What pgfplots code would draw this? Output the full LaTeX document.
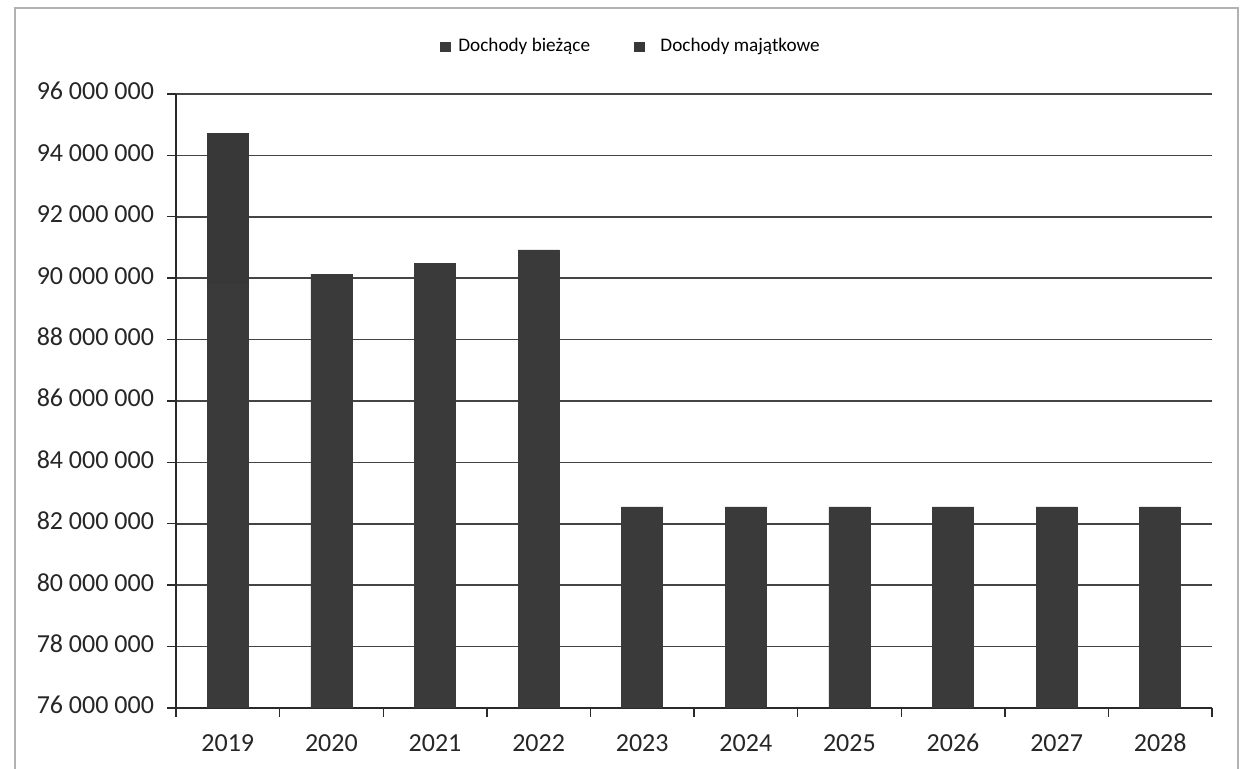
\documentclass[border=0pt]{standalone}
\usepackage{fontspec}
\setmainfont{Carlito}
\usepackage{pgfplots}
\pgfplotsset{compat=1.18}
\definecolor{barA}{HTML}{3A3A3A}
\definecolor{barB}{HTML}{383838}
\definecolor{gridc}{HTML}{444444}
\definecolor{axc}{HTML}{2A2A2A}
\begin{document}
\begin{tikzpicture}
\useasboundingbox (0,0) rectangle (622pt,384.5pt);
\draw[gray!60, line width=0.6pt] (7.5pt,0) -- (7.5pt,380.5pt) -- (619pt,380.5pt) -- (619pt,0);
\begin{axis}[
  at={(88pt,30.5pt)}, anchor=south west,
  scale only axis, width=518pt, height=307pt,
  ybar stacked, bar width=20.5pt,
  xmin=-0.5, xmax=9.5,
  ymin=76000000, ymax=96000000,
  xtick={-0.5,0.5,...,9.5},
  xticklabels={2019,2020,2021,2022,2023,2024,2025,2026,2027,2028},
  x tick label as interval,
  ytick={76000000,78000000,80000000,82000000,84000000,86000000,88000000,90000000,92000000,94000000,96000000},
  yticklabels={76 000 000,78 000 000,80 000 000,82 000 000,84 000 000,86 000 000,88 000 000,90 000 000,92 000 000,94 000 000,96 000 000},
  scaled y ticks=false,
  /pgf/number format/assume math mode=true,
  typeset ticklabels with strut,
  axis x line*=bottom, axis y line*=left,
  axis line style={-, axc, line width=0.7pt},
  tick align=outside, major tick length=4.5pt,
  tick style={axc, line width=0.7pt},
  ymajorgrids, grid style={gridc, line width=0.85pt},
  ticklabel style={font=\fontsize{13}{15}\selectfont, text=black!85},
  yticklabel style={xshift=-3pt},
  xticklabel style={yshift=-3pt},
  legend style={at={(0.44,1.077)}, anchor=center, draw=none, fill=none,
    font=\fontsize{9.6}{11}\selectfont, legend columns=2,
    /tikz/every even column/.append style={column sep=20pt}},
  legend image code/.code={\fill[#1] (0pt,-2.4pt) rectangle (4.8pt,2.4pt);},
]
\addplot[fill=barA, draw=barA, line width=0.4pt] coordinates {(0,89800000) (1,90130000) (2,90490000) (3,90920000) (4,82550000) (5,82550000) (6,82550000) (7,82550000) (8,82550000) (9,82550000)};
\addlegendentry{\hspace{2pt}Dochody bieżące}
\addplot[fill=barB, draw=barB, line width=0.4pt] coordinates {(0,4920000) (1,0) (2,0) (3,0) (4,0) (5,0) (6,0) (7,0) (8,0) (9,0)};
\addlegendentry{\hspace{6pt}Dochody majątkowe}
\end{axis}
\end{tikzpicture}
\end{document}
